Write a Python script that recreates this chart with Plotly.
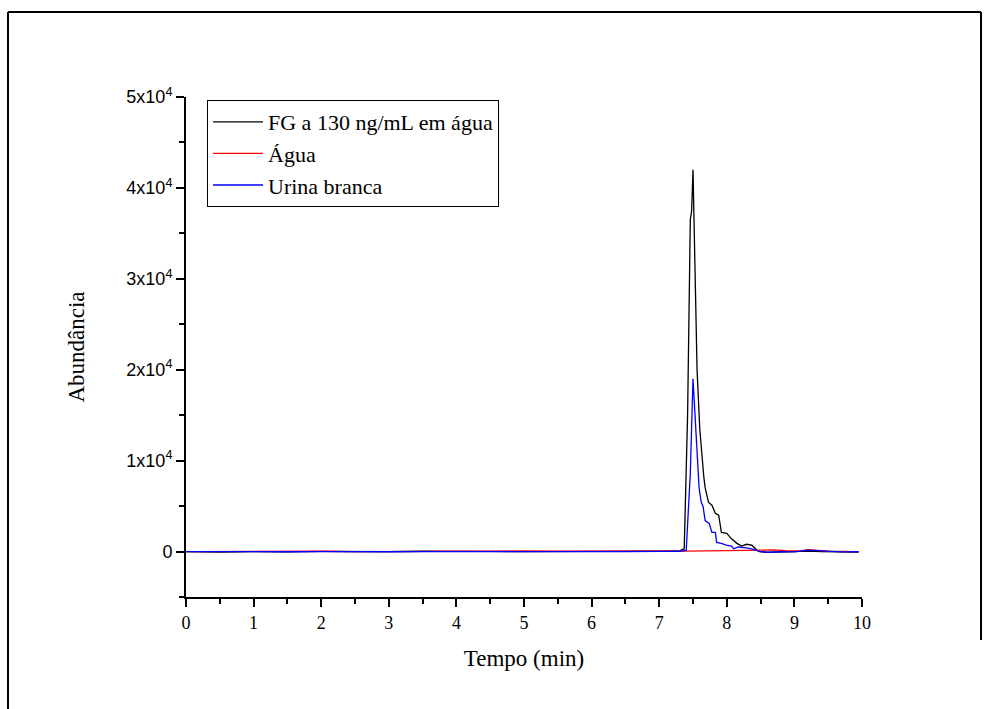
import plotly.graph_objects as go

# ---- data ----
time_fg = [0, 0.5, 1, 1.5, 2, 2.5, 3, 3.5, 4, 4.5, 5, 5.5, 6, 6.5, 7, 7.3, 7.37, 7.42,
           7.46, 7.48, 7.50, 7.53, 7.56, 7.60, 7.63, 7.66, 7.68, 7.73, 7.78, 7.83, 7.88,
           7.92, 8.00, 8.07, 8.15, 8.22, 8.29, 8.37, 8.44, 8.49, 8.6, 8.8, 9.0, 9.2,
           9.4, 9.6, 9.8, 9.95]
abund_fg = [0, -50, 0, -40, 20, -30, 0, 30, -20, 10, 0, 40, 20, 30, 50, 80, 300, 15000,
            36500, 37500, 42000, 30000, 20000, 13500, 10400, 8200, 7000, 5400, 5100, 4200,
            4000, 2100, 2000, 1400, 900, 600, 800, 700, 200, 0, -100, -50, 0, 50, 0, -50,
            -30, -60]

time_agua = [0, 0.5, 1, 1.5, 2, 2.5, 3, 3.5, 4, 4.5, 5, 5.5, 6, 6.5, 7, 7.4, 7.8,
             8.1, 8.3, 8.5, 8.6, 8.7, 8.9, 9.1, 9.2, 9.3, 9.5, 9.7, 9.95]
abund_agua = [0, 20, -20, 0, 30, -10, 10, 0, 20, 40, 60, 30, 10, 20, 30, 40, 100,
              160, 200, 150, 220, 180, 60, 80, 200, 120, 40, 20, 0]

time_urina = [0, 0.5, 1, 1.5, 2, 2.5, 3, 3.5, 4, 4.5, 5, 5.5, 6, 6.5, 7, 7.3, 7.40,
              7.46, 7.50, 7.55, 7.59, 7.62, 7.65, 7.68, 7.74, 7.78, 7.83, 7.85, 7.92,
              7.99, 8.07, 8.10, 8.17, 8.29, 8.37, 8.49, 8.6, 8.8, 9.0, 9.2, 9.3, 9.5,
              9.7, 9.95]
abund_urina = [0, -30, -60, -20, 0, -40, -20, 0, -30, -10, 0, -20, 10, -10, 20, 30, 150,
               8600, 19000, 12200, 7000, 5500, 4900, 3400, 3100, 2100, 2100, 1000, 900,
               700, 600, 300, 500, 400, 300, 0, -80, 0, -40, 150, 100, 0, -30, -20]

series_names = ["FG a 130 ng/mL em água", "Água", "Urina branca"]
series_colors = ["#000000", "#ff0000", "#0000ff"]

y_tickvals = [0, 10000, 20000, 30000, 40000, 50000]
y_ticktext = ["0", "1x10<sup>4</sup>", "2x10<sup>4</sup>", "3x10<sup>4</sup>",
              "4x10<sup>4</sup>", "5x10<sup>4</sup>"]
x_tickvals = list(range(0, 11))

# ---- figure ----
W, H = 989, 709
L, R, T, B = 186, 127, 97, 112

fig = go.Figure()
for xs, ys, name, col in zip([time_fg, time_agua, time_urina],
                             [abund_fg, abund_agua, abund_urina],
                             series_names, series_colors):
    fig.add_trace(go.Scatter(x=xs, y=ys, mode="lines", name=name,
                             line=dict(color=col, width=1.3)))

serif = "Liberation Serif, Times New Roman, serif"
sans = "Liberation Sans, Arial, sans-serif"

fig.update_layout(
    width=W, height=H,
    margin=dict(l=L, r=R, t=T, b=B, autoexpand=False),
    paper_bgcolor="white", plot_bgcolor="white",
    showlegend=True,
    legend=dict(x=(207 - L) / (W - L - R), y=1 - (100 - T) / (H - T - B),
                xanchor="left", yanchor="top",
                bordercolor="black", borderwidth=1, bgcolor="white",
                font=dict(family=serif, size=22, color="black"),
                tracegroupgap=0, itemwidth=50),
    xaxis=dict(range=[0, 10], tickvals=x_tickvals, showgrid=False, zeroline=False,
               showline=True, linecolor="black", linewidth=2,
               ticks="outside", ticklen=8, tickwidth=2, tickcolor="black",
               tickfont=dict(family=serif, size=18, color="black"),
               minor=dict(dtick=0.5, ticks="outside", ticklen=5, tickwidth=2,
                          tickcolor="black", showgrid=False),
               title=dict(text="Tempo (min)", font=dict(family=serif, size=23, color="black"),
                          standoff=18)),
    yaxis=dict(range=[-5000, 50000], tickvals=y_tickvals, ticktext=y_ticktext,
               showgrid=False, zeroline=False,
               showline=True, linecolor="black", linewidth=2,
               ticks="outside", ticklen=8, tickwidth=2, tickcolor="black",
               tickfont=dict(family=sans, size=18, color="black"),
               minor=dict(tickvals=[-5000, 5000, 15000, 25000, 35000, 45000],
                          ticks="outside", ticklen=5, tickwidth=2,
                          tickcolor="black", showgrid=False),
               title=dict(text="Abundância", font=dict(family=serif, size=23, color="black"),
                          standoff=35)),
)

# outer frame (pixel -> paper coordinates)
pw, ph = W - L - R, H - T - B
def px(x):
    return (x - L) / pw
def py(y):
    return (H - B - y) / ph

for x0, y0, x1, y1 in [(8, 12, 981, 12), (8, 12, 8, 712), (981, 12, 981, 640)]:
    fig.add_shape(type="line", xref="paper", yref="paper",
                  x0=px(x0), y0=py(y0), x1=px(x1), y1=py(y1),
                  line=dict(color="black", width=2))

fig.write_html("out.html")
